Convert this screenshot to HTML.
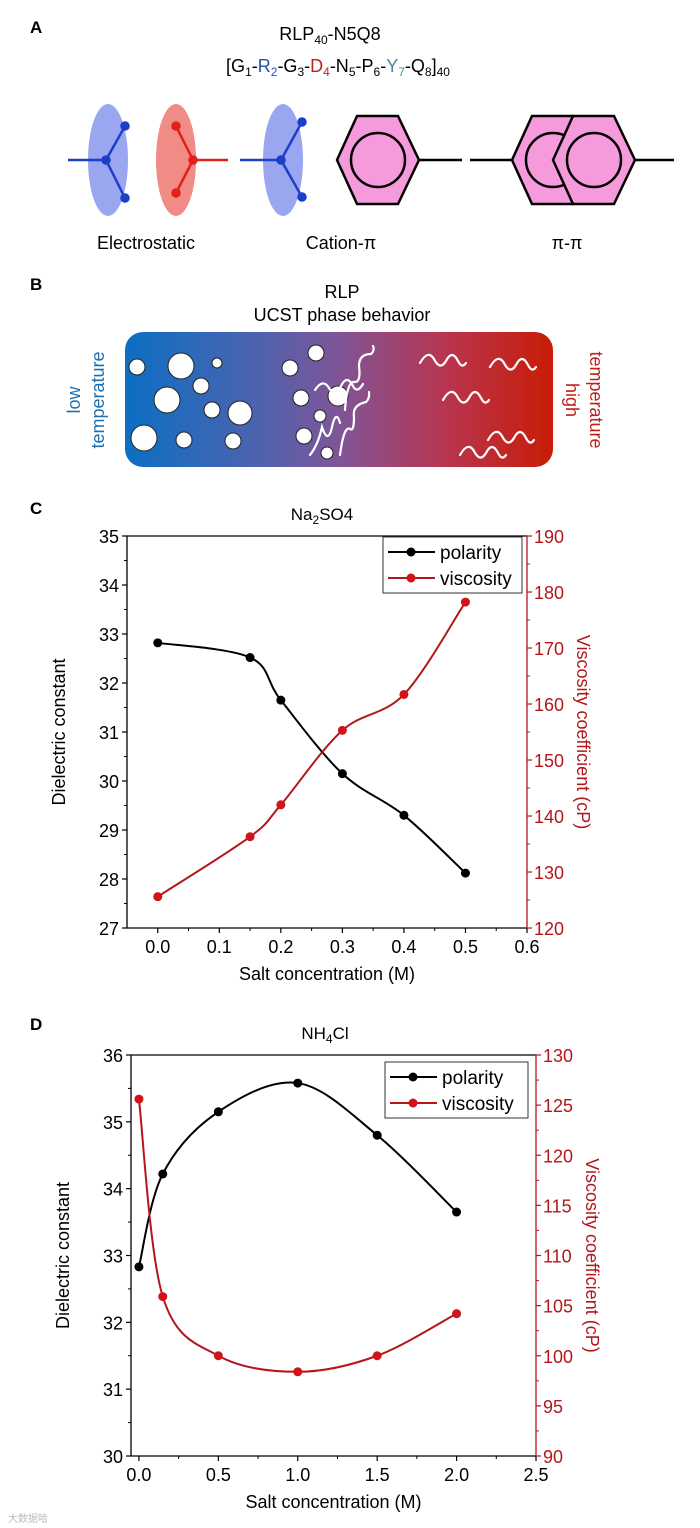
<!DOCTYPE html>
<html><head><meta charset="utf-8"><style>
body{margin:0;background:#fff;font-family:"Liberation Sans",Arial,sans-serif}
svg{display:block}
text{font-family:"Liberation Sans",Arial,sans-serif}
</style></head><body>
<svg id="root" width="700" height="1528" viewBox="0 0 700 1528">
<defs>
<linearGradient id="grad" x1="0" x2="1" y1="0" y2="0">
<stop offset="0" stop-color="#0b6fc4"/><stop offset="0.3" stop-color="#4b63b0"/><stop offset="0.5" stop-color="#7f5597"/><stop offset="0.75" stop-color="#b8354f"/><stop offset="1" stop-color="#c81c06"/>
</linearGradient>
</defs>
<g>
<text x="30" y="33" font-size="17" font-weight="bold">A</text>
<text x="330" y="40" font-size="18" text-anchor="middle">RLP<tspan font-size="12" dy="4">40</tspan><tspan dy="-4">-N5Q8</tspan></text>
<text x="338" y="72" font-size="18" text-anchor="middle">[G<tspan font-size="12" dy="4">1</tspan><tspan dy="-4">-</tspan><tspan fill="#2a4fb0">R</tspan><tspan fill="#2a4fb0" font-size="12" dy="4">2</tspan><tspan dy="-4">-G</tspan><tspan font-size="12" dy="4">3</tspan><tspan dy="-4">-</tspan><tspan fill="#c0201a">D</tspan><tspan fill="#c0201a" font-size="12" dy="4">4</tspan><tspan dy="-4">-N</tspan><tspan font-size="12" dy="4">5</tspan><tspan dy="-4">-P</tspan><tspan font-size="12" dy="4">6</tspan><tspan dy="-4">-</tspan><tspan fill="#3a8f96">Y</tspan><tspan fill="#3a8f96" font-size="12" dy="4">7</tspan><tspan dy="-4">-Q</tspan><tspan font-size="12" dy="4">8</tspan><tspan dy="-4">]</tspan><tspan font-size="12" dy="4">40</tspan></text>
<ellipse cx="108" cy="160" rx="20" ry="56" fill="#9aa6f0"/>
<ellipse cx="176" cy="160" rx="20" ry="56" fill="#f18b86"/>
<ellipse cx="283" cy="160" rx="20" ry="56" fill="#9aa6f0"/>
<g stroke="#1c3fc8" stroke-width="2.5" fill="#1c3fc8">
<line x1="68" y1="160" x2="106" y2="160"/><line x1="106" y1="160" x2="125" y2="126"/><line x1="106" y1="160" x2="125" y2="198"/>
<circle cx="106" cy="160" r="3.5"/><circle cx="125" cy="126" r="3.5"/><circle cx="125" cy="198" r="3.5"/></g>
<g stroke="#e0201a" stroke-width="2.5" fill="#e0201a">
<line x1="228" y1="160" x2="193" y2="160"/><line x1="193" y1="160" x2="176" y2="126"/><line x1="193" y1="160" x2="176" y2="193"/>
<circle cx="193" cy="160" r="3.5"/><circle cx="176" cy="126" r="3.5"/><circle cx="176" cy="193" r="3.5"/></g>
<g stroke="#1c3fc8" stroke-width="2.5" fill="#1c3fc8">
<line x1="240" y1="160" x2="281" y2="160"/><line x1="281" y1="160" x2="302" y2="122"/><line x1="281" y1="160" x2="302" y2="197"/>
<circle cx="281" cy="160" r="3.5"/><circle cx="302" cy="122" r="3.5"/><circle cx="302" cy="197" r="3.5"/></g>
<g stroke="#000" stroke-width="2.5">
<polygon points="337,160 357,116 398,116 419,160 398,204 357,204" fill="#f59adb"/>
<circle cx="378" cy="160" r="27" fill="none"/><line x1="419" y1="160" x2="462" y2="160"/></g>
<g stroke="#000" stroke-width="2.5">
<line x1="470" y1="160" x2="512" y2="160"/>
<polygon points="512,160 532,116 573,116 594,160 573,204 532,204" fill="#f59adb"/>
<circle cx="553" cy="160" r="27" fill="none"/>
<polygon points="553,160 573,116 614,116 635,160 614,204 573,204" fill="#f59adb"/>
<circle cx="594" cy="160" r="27" fill="none"/><line x1="635" y1="160" x2="674" y2="160"/></g>
<text x="146" y="249" font-size="18" text-anchor="middle">Electrostatic</text>
<text x="341" y="249" font-size="18" text-anchor="middle">Cation-π</text>
<text x="567" y="249" font-size="18" text-anchor="middle">π-π</text>
</g>
<g>
<text x="30" y="290" font-size="17" font-weight="bold">B</text>
<text x="342" y="298" font-size="18" text-anchor="middle">RLP</text>
<text x="342" y="321" font-size="18" text-anchor="middle">UCST phase behavior</text>
<rect x="125" y="332" width="428" height="135" rx="18" fill="url(#grad)"/>
<g fill="#fff" stroke="#222" stroke-width="1">
<circle cx="137" cy="367" r="8"/><circle cx="181" cy="366" r="13"/><circle cx="217" cy="363" r="5"/><circle cx="201" cy="386" r="8"/>
<circle cx="167" cy="400" r="13"/><circle cx="212" cy="410" r="8"/><circle cx="240" cy="413" r="12"/><circle cx="144" cy="438" r="13"/>
<circle cx="184" cy="440" r="8"/><circle cx="233" cy="441" r="8"/><circle cx="316" cy="353" r="8"/><circle cx="290" cy="368" r="8"/>
<circle cx="301" cy="398" r="8"/><circle cx="338" cy="396" r="10"/><circle cx="320" cy="416" r="6"/><circle cx="304" cy="436" r="8"/><circle cx="327" cy="453" r="6"/></g>
<g fill="none" stroke="#fff" stroke-width="2.2" stroke-linecap="round">
<path d="M315 390 q8-12 14-2 q6 10 12-2 q6-12 12 0 q4 8 10-2"/>
<path d="M340 455 q4-30 10-26 q4 3 4-12 q-2-12 12-15 q4-4 3-10"/>
<path d="M345 410 q2-30 10-28 q6 0 4-16 q0-12 12-12 q4-4 2-8"/>
<path d="M310 455 q8-10 12-28 q6 18 10 0 q4-18 8-4"/>
<path d="M420 363 q8-14 14-4 q6 12 12 2 q6-12 12 0 q4 8 8 2"/>
<path d="M490 367 q8-14 14-4 q6 12 12 2 q6-12 12 0 q4 8 8 2"/>
<path d="M443 400 q8-14 14-4 q6 12 12 2 q6-12 12 0 q4 8 8 2"/>
<path d="M488 440 q8-14 14-4 q6 12 12 2 q6-12 12 0 q4 8 8 2"/>
<path d="M460 455 q8-14 14-4 q6 12 12 2 q6-12 12 0 q4 8 8 2"/></g>
<text transform="translate(80,400) rotate(-90)" font-size="18" fill="#1f6fb0" text-anchor="middle">low</text>
<text transform="translate(104,400) rotate(-90)" font-size="18" fill="#1f6fb0" text-anchor="middle">temperature</text>
<text transform="translate(566,400) rotate(90)" font-size="18" fill="#c0201a" text-anchor="middle">high</text>
<text transform="translate(590,400) rotate(90)" font-size="18" fill="#c0201a" text-anchor="middle">temperature</text>
</g>
<text x="30" y="514" font-size="17" font-weight="bold">C</text>
<text x="30" y="1030" font-size="17" font-weight="bold">D</text>
<g id="chartC"></g>
<g id="chartD"></g>
<text x="8" y="1522" font-size="10" fill="#bbb">大数据哈</text>
</svg>
<script>
// Chart C data (Na2SO4)
const cX = [0, 0.15, 0.2, 0.3, 0.4, 0.5];
const cPolarity = [32.82, 32.52, 31.65, 30.15, 29.3, 28.12];
const cViscosity = [125.6, 136.3, 142.0, 155.3, 161.7, 178.2];
const cXTicks = ["0.0","0.1","0.2","0.3","0.4","0.5","0.6"];
const cYTicks = ["27","28","29","30","31","32","33","34","35"];
const cY2Ticks = ["120","130","140","150","160","170","180","190"];
// Chart D data (NH4Cl)
const dX = [0, 0.15, 0.5, 1.0, 1.5, 2.0];
const dPolarity = [32.83, 34.22, 35.15, 35.58, 34.8, 33.65];
const dViscosity = [125.6, 105.9, 100.0, 98.4, 100.0, 104.2];
const dXTicks = ["0.0","0.5","1.0","1.5","2.0","2.5"];
const dYTicks = ["30","31","32","33","34","35","36"];
const dY2Ticks = ["90","95","100","105","110","115","120","125","130"];

const NS = "http://www.w3.org/2000/svg";
function mk(parent, tag, attrs, txt){
  const e = document.createElementNS(NS, tag);
  for (const k in attrs) e.setAttribute(k, attrs[k]);
  if (txt !== undefined) e.textContent = txt;
  parent.appendChild(e); return e;
}
function spline(pts){
  let d = "M" + pts[0][0] + " " + pts[0][1];
  for (let i = 0; i < pts.length - 1; i++){
    const p0 = pts[i-1] || pts[i], p1 = pts[i], p2 = pts[i+1], p3 = pts[i+2] || p2;
    const c1x = p1[0] + (p2[0]-p0[0])/6, c1y = p1[1] + (p2[1]-p0[1])/6;
    const c2x = p2[0] - (p3[0]-p1[0])/6, c2y = p2[1] - (p3[1]-p1[1])/6;
    d += " C" + c1x + " " + c1y + " " + c2x + " " + c2y + " " + p2[0] + " " + p2[1];
  }
  return d;
}
function chart(g, cfg){
  const {L,R,T,B,xmin,xmax,ymin,ymax,y2min,y2max,xs,pol,vis,xt,yt,y2t,title,tx,leg} = cfg;
  const sx = v => L + (v - xmin)/(xmax - xmin)*(R - L);
  const sy = v => B - (v - ymin)/(ymax - ymin)*(B - T);
  const sy2 = v => B - (v - y2min)/(y2max - y2min)*(B - T);
  const red = "#b3171c";
  let e;
  e = mk(g, "text", {x: tx, y: T - 16, "font-size": 17, "text-anchor": "middle"});
  e.innerHTML = title;
  
  
  e = mk(g, "polyline", {points: `${R},${T} ${L},${T} ${L},${B} ${R},${B}`, fill: "none", stroke: "#000", "stroke-width": 1.3});
  
  
  e = mk(g, "line", {x1: R, y1: T, x2: R, y2: B, stroke: red, "stroke-width": 1.3});
  
  
  const xstep = (parseFloat(xt[1]) - parseFloat(xt[0]));
  xt.forEach((t, i) => {
    const v = parseFloat(t), x = sx(v);
    mk(g, "line", {x1: x, y1: B, x2: x, y2: B + 5, stroke: "#000", "stroke-width": 1.2});
    const mx = sx(v - xstep/2);
    if (mx > L) mk(g, "line", {x1: mx, y1: B, x2: mx, y2: B + 3, stroke: "#000", "stroke-width": 1});
    e = mk(g, "text", {x: x, y: B + 25, "font-size": 18, "text-anchor": "middle"}, t);
    
    
  });
  const ystep = parseFloat(yt[1]) - parseFloat(yt[0]);
  yt.forEach(t => {
    const v = parseFloat(t), y = sy(v);
    mk(g, "line", {x1: L - 5, y1: y, x2: L, y2: y, stroke: "#000", "stroke-width": 1.2});
    if (v + ystep/2 <= ymax) { const my = sy(v + ystep/2); mk(g, "line", {x1: L - 3, y1: my, x2: L, y2: my, stroke: "#000", "stroke-width": 1}); }
    e = mk(g, "text", {x: L - 8, y: y + 7, "font-size": 18, "text-anchor": "end"}, t);
    
    
  });
  const y2step = parseFloat(y2t[1]) - parseFloat(y2t[0]);
  y2t.forEach(t => {
    const v = parseFloat(t), y = sy2(v);
    mk(g, "line", {x1: R, y1: y, x2: R + 5, y2: y, stroke: red, "stroke-width": 1.2});
    if (v + y2step/2 <= y2max) { const my = sy2(v + y2step/2); mk(g, "line", {x1: R, y1: my, x2: R + 3, y2: my, stroke: red, "stroke-width": 1}); }
    e = mk(g, "text", {x: R + 7, y: y + 7, "font-size": 18, fill: red}, t);
    
    
  });
  e = mk(g, "text", {x: (L + R)/2, y: B + 52, "font-size": 18, "text-anchor": "middle"}, "Salt concentration (M)");
  
  
  e = mk(g, "text", {transform: `translate(${L - 62},${(T + B)/2}) rotate(-90)`, "font-size": 18, "text-anchor": "middle"}, "Dielectric constant");
  
  
  e = mk(g, "text", {transform: `translate(${R + 50},${(T + B)/2}) rotate(90)`, "font-size": 18, "text-anchor": "middle", fill: red}, "Viscosity coefficient (cP)");
  
  
  // legend (drawn before data so marks stay visible)
  const lg = mk(g, "g", {});
  
  
  mk(lg, "rect", {x: leg[0], y: leg[1], width: leg[2], height: leg[3], fill: "#fff", stroke: "#333", "stroke-width": 1});
  [["polarity", "#000", "#000"], ["viscosity", red, "#d0141a"]].forEach((s, i) => {
    const y = leg[1] + 15 + i*26;
    const en = mk(lg, "g", {});
    
    
    mk(en, "line", {x1: leg[0] + 5, y1: y, x2: leg[0] + 52, y2: y, stroke: s[1], "stroke-width": 2});
    mk(en, "circle", {cx: leg[0] + 28, cy: y, r: 4.5, fill: s[2]});
    mk(en, "text", {x: leg[0] + 57, y: y + 7, "font-size": 19}, s[0]);
  });
  const pp = xs.map((x, i) => [sx(x), sy(pol[i])]);
  const vp = xs.map((x, i) => [sx(x), sy2(vis[i])]);
  e = mk(g, "path", {d: spline(pp), fill: "none", stroke: "#000", "stroke-width": 2});
  
  
  e = mk(g, "path", {d: spline(vp), fill: "none", stroke: red, "stroke-width": 2});
  
  
  pp.forEach(p => {
    e = mk(g, "circle", {cx: p[0], cy: p[1], r: 4.5, fill: "#000"});
    
    
  });
  vp.forEach(p => {
    e = mk(g, "circle", {cx: p[0], cy: p[1], r: 4.5, fill: "#d0141a"});
    
    
  });
}
chart(document.getElementById("chartC"), {L:127,R:527,T:536,B:928,xmin:-0.05,xmax:0.6,ymin:27,ymax:35,y2min:120,y2max:190,
  xs:cX,pol:cPolarity,vis:cViscosity,xt:cXTicks,yt:cYTicks,y2t:cY2Ticks,title:'Na<tspan font-size="12" dy="4">2</tspan><tspan dy="-4">SO4</tspan>',tx:322,leg:[383,537,139,56]});
chart(document.getElementById("chartD"), {L:131,R:536,T:1055,B:1456,xmin:-0.05,xmax:2.5,ymin:30,ymax:36,y2min:90,y2max:130,
  xs:dX,pol:dPolarity,vis:dViscosity,xt:dXTicks,yt:dYTicks,y2t:dY2Ticks,title:'NH<tspan font-size="12" dy="4">4</tspan><tspan dy="-4">Cl</tspan>',tx:325,leg:[385,1062,143,56]});
</script>
</body></html>
